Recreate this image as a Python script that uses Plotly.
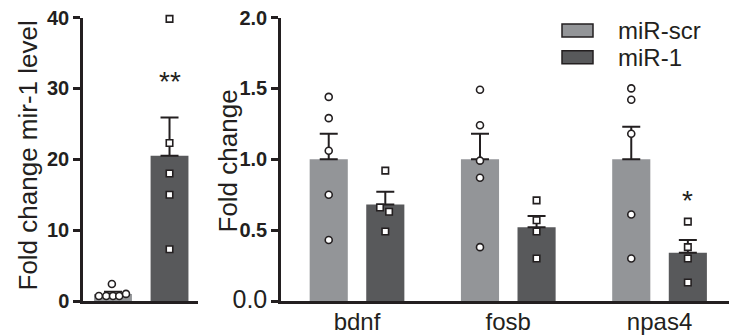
import plotly.graph_objects as go

# left panel: mir-1 level
mir_groups = ["miR-scr", "miR-1"]
mir_mean = [1.0, 20.5]
mir_sem = [0.3, 5.4]
mir_scr_pts = [2.4, 0.7, 0.7, 0.7, 0.7, 1.0]
mir_1_pts = [39.8, 22.3, 18.0, 15.0, 7.3]

# right panel: target genes
genes = ["bdnf", "fosb", "npas4"]
scr_mean = [1.0, 1.0, 1.0]
scr_sem = [0.18, 0.18, 0.23]
m1_mean = [0.68, 0.52, 0.34]
m1_sem = [0.09, 0.08, 0.09]
scr_pts = [[1.44, 1.29, 1.06, 0.75, 0.43],
           [1.49, 1.24, 0.99, 0.87, 0.38],
           [1.50, 1.42, 1.18, 0.61, 0.30]]
m1_pts = [[0.92, 0.66, 0.63, 0.49],
          [0.71, 0.57, 0.49, 0.30],
          [0.56, 0.38, 0.30, 0.13]]

# horizontal scatter of the dots (in x-axis units)
mir_scr_jit = [-0.02, -0.25, -0.12, 0.0, 0.11, 0.23]
m1_jit = [[0.0, -0.035, 0.025, 0.0], [0, 0, 0, 0], [0, 0, 0, 0]]

LIGHT = "#939598"
DARK = "#58595b"
INK = "#231f20"
FONT = "Liberation Sans, Arial, sans-serif"

# the page body keeps its default 8px margin, so size the figure to fit the window
PAD = 8
W, H = 737 - PAD, 336 - PAD


def fx(p):
    # window pixel -> paper x
    return (p - PAD) / W


def fy(p):
    # window pixel -> paper y
    return 1 - (p - PAD) / H


fig = go.Figure()

err = dict(type="data", symmetric=False, arrayminus=[0] * 3, color=INK, thickness=2, width=9)

# left bars
fig.add_trace(go.Bar(x=[0, 1], y=mir_mean, width=0.67, marker=dict(color=[LIGHT, DARK], line_width=0),
                     error_y=dict(err, array=mir_sem, arrayminus=[0, 0]),
                     xaxis="x", yaxis="y", showlegend=False))
fig.add_trace(go.Scatter(x=[0 + j for j in mir_scr_jit], y=mir_scr_pts, mode="markers",
                         marker=dict(symbol="circle", size=7, color="white", line=dict(color=INK, width=1.6)),
                         xaxis="x", yaxis="y", showlegend=False, cliponaxis=False))
fig.add_trace(go.Scatter(x=[1] * len(mir_1_pts), y=mir_1_pts, mode="markers",
                         marker=dict(symbol="square", size=6.5, color="white", line=dict(color=INK, width=1.6)),
                         xaxis="x", yaxis="y", showlegend=False, cliponaxis=False))

# right bars
off = 0.187
bw = 0.252
xs = list(range(len(genes)))
fig.add_trace(go.Bar(x=[i - off for i in xs], y=scr_mean, width=bw, marker=dict(color=LIGHT, line_width=0),
                     error_y=dict(err, array=scr_sem), xaxis="x2", yaxis="y2", showlegend=False))
fig.add_trace(go.Bar(x=[i + off for i in xs], y=m1_mean, width=bw, marker=dict(color=DARK, line_width=0),
                     error_y=dict(err, array=m1_sem), xaxis="x2", yaxis="y2", showlegend=False))

px_, py_ = [], []
for i, pts in enumerate(scr_pts):
    px_ += [i - off] * len(pts)
    py_ += pts
fig.add_trace(go.Scatter(x=px_, y=py_, mode="markers",
                         marker=dict(symbol="circle", size=7, color="white", line=dict(color=INK, width=1.6)),
                         xaxis="x2", yaxis="y2", showlegend=False, cliponaxis=False))
qx, qy = [], []
for i, pts in enumerate(m1_pts):
    qx += [i + off + j for j in m1_jit[i]]
    qy += pts
fig.add_trace(go.Scatter(x=qx, y=qy, mode="markers",
                         marker=dict(symbol="square", size=6.5, color="white", line=dict(color=INK, width=1.6)),
                         xaxis="x2", yaxis="y2", showlegend=False, cliponaxis=False))

ydom = [fy(301), fy(17.5)]
axis_common = dict(showline=True, linecolor=INK, linewidth=2.5, showgrid=False, zeroline=False,
                   automargin=False, ticklabeloverflow="allow")

fig.update_layout(
    width=W, height=H, margin=dict(l=0, r=0, t=0, b=0, autoexpand=False),
    paper_bgcolor="white", plot_bgcolor="white",
    font=dict(family=FONT, color=INK),
    barmode="overlay",
    xaxis=dict(axis_common, domain=[fx(83), fx(198)], range=[-0.531, 1.504], showticklabels=False, ticks=""),
    yaxis=dict(axis_common, domain=ydom, range=[0, 40], tickvals=[0, 10, 20, 30, 40],
               ticktext=["<b>%d</b>" % v for v in [0, 10, 20, 30, 40]],
               ticks="outside", ticklen=7, tickwidth=2.5, tickcolor=INK,
               tickfont=dict(size=20, family=FONT, color=INK)),
    xaxis2=dict(axis_common, domain=[fx(281), 1], range=[-0.5025, 2.512], anchor="y2",
                tickvals=xs, ticktext=genes, ticks="", ticklabelstandoff=-3,
                tickfont=dict(size=24, family=FONT, color=INK)),
    yaxis2=dict(axis_common, domain=ydom, range=[0, 2.0], anchor="x2",
                tickvals=[0, 0.5, 1.0, 1.5, 2.0],
                ticktext=["<span style='font-size:25px'>0.0</span>", "<b>0.5</b>", "<b>1.0</b>", "<b>1.5</b>", "<b>2.0</b>"],
                ticks="outside", ticklen=7, tickwidth=2.5, tickcolor=INK,
                tickfont=dict(size=20, family=FONT, color=INK)),
)

# axis titles
fig.add_annotation(text="Fold change mir-1 level", x=fx(27), y=fy(155.5), xref="paper", yref="paper",
                   xanchor="center", yanchor="middle", textangle=-90, showarrow=False,
                   font=dict(size=26, family=FONT, color=INK))
fig.add_annotation(text="Fold change", x=fx(227), y=fy(161.5), xref="paper", yref="paper",
                   xanchor="center", yanchor="middle", textangle=-90, showarrow=False,
                   font=dict(size=26, family=FONT, color=INK))

# significance marks
fig.add_annotation(text="**", x=1, y=31.0, xref="x", yref="y", showarrow=False,
                   font=dict(size=28, family=FONT, color=INK))
fig.add_annotation(text="*", x=2 + off, y=0.71, xref="x2", yref="y2", showarrow=False,
                   font=dict(size=28, family=FONT, color=INK))

# legend
for k, (name, col) in enumerate(zip(mir_groups, [LIGHT, DARK])):
    top = [24, 50.7][k]
    fig.add_shape(type="rect", xref="paper", yref="paper",
                  x0=fx(562), x1=fx(593), y0=fy(top + 13), y1=fy(top),
                  fillcolor=col, line=dict(color=INK, width=1.5))
    fig.add_annotation(text=name, x=fx(616), y=fy(top + 6.5), xref="paper", yref="paper",
                       xanchor="left", yanchor="middle", showarrow=False,
                       font=dict(size=24, family=FONT, color=INK))

fig.write_html("out.html")
